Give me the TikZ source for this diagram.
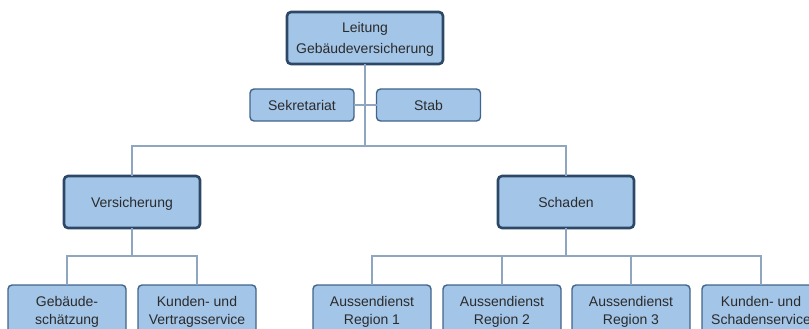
\documentclass[tikz,border=0pt]{standalone}
\usepackage{fontspec}
\setmainfont{Liberation Sans}
\usetikzlibrary{positioning}

\definecolor{boxfill}{HTML}{A3C5E8}
\definecolor{boxline}{HTML}{43648A}
\definecolor{headline}{HTML}{2C4866}
\definecolor{wire}{HTML}{8FA6C0}
\definecolor{txt}{HTML}{2B2B2B}

\begin{document}
\begin{tikzpicture}[x=1pt,y=-1pt,node distance=12pt,
                    unit/.style={draw=boxline,line width=1.4pt,fill=boxfill,
                      rounded corners=4pt,align=center,text=txt,inner sep=0pt,
                      outer sep=0pt,text depth=0pt,
                      font=\fontsize{14}{18}\selectfont},
                    head/.style={unit,draw=headline,line width=2.6pt},
                    leaf/.style={unit,minimum width=118pt,minimum height=50pt},
                    wire/.style={draw=wire,line width=1.4pt}]

  \useasboundingbox (0,0) rectangle (809,329);
  \clip (0,0) rectangle (809,329);

  \node[head,minimum width=156pt,minimum height=52pt,
        font=\fontsize{14}{21}\selectfont] (lead) at (365,38)
       {Leitung\\Gebäudeversicherung};
  \node[unit,minimum width=104pt,minimum height=32pt] (sek) at (302,105) {Sekretariat};
  \node[unit,minimum width=104pt,minimum height=32pt] (stab) at (428.5,105) {Stab};

  \node[head,minimum width=136pt,minimum height=52pt] (vers) at (132,202) {Versicherung};
  \node[head,minimum width=136pt,minimum height=52pt] (schad) at (566,202) {Schaden};

  \node[leaf] (gs) at (67,310) {Gebäude-\\schätzung};
  \node[leaf] (kv) [right=of gs] {Kunden- und\\Vertragsservice};

  \node[leaf] (ar1) at (372,310) {Aussendienst\\Region 1};
  \node[leaf] (ar2) [right=of ar1] {Aussendienst\\Region 2};
  \node[leaf] (ar3) [right=11pt of ar2] {Aussendienst\\Region 3};
  \node[leaf] (ks) [right=of ar3] {Kunden- und\\Schadenservice};

  \coordinate (jl) at (365,146);
  \coordinate (jv) at (132,256);
  \coordinate (js) at (566,256);

  % connectors
  \path[wire] (lead) -- (jl);
  \path[wire] (sek) -- (stab);
  \path[wire] (vers.north) |- (jl) -| (schad.north);

  \path[wire] (vers) -- (jv);
  \path[wire] (gs.north) |- (jv) -| (kv.north);

  \path[wire] (schad) -- (js);
  \path[wire] (ar1.north) |- (js) -| (ks.north);
  \path[wire] (ar2.north) -- (ar2.north |- js);
  \path[wire] (ar3.north) -- (ar3.north |- js);

\end{tikzpicture}
\end{document}
